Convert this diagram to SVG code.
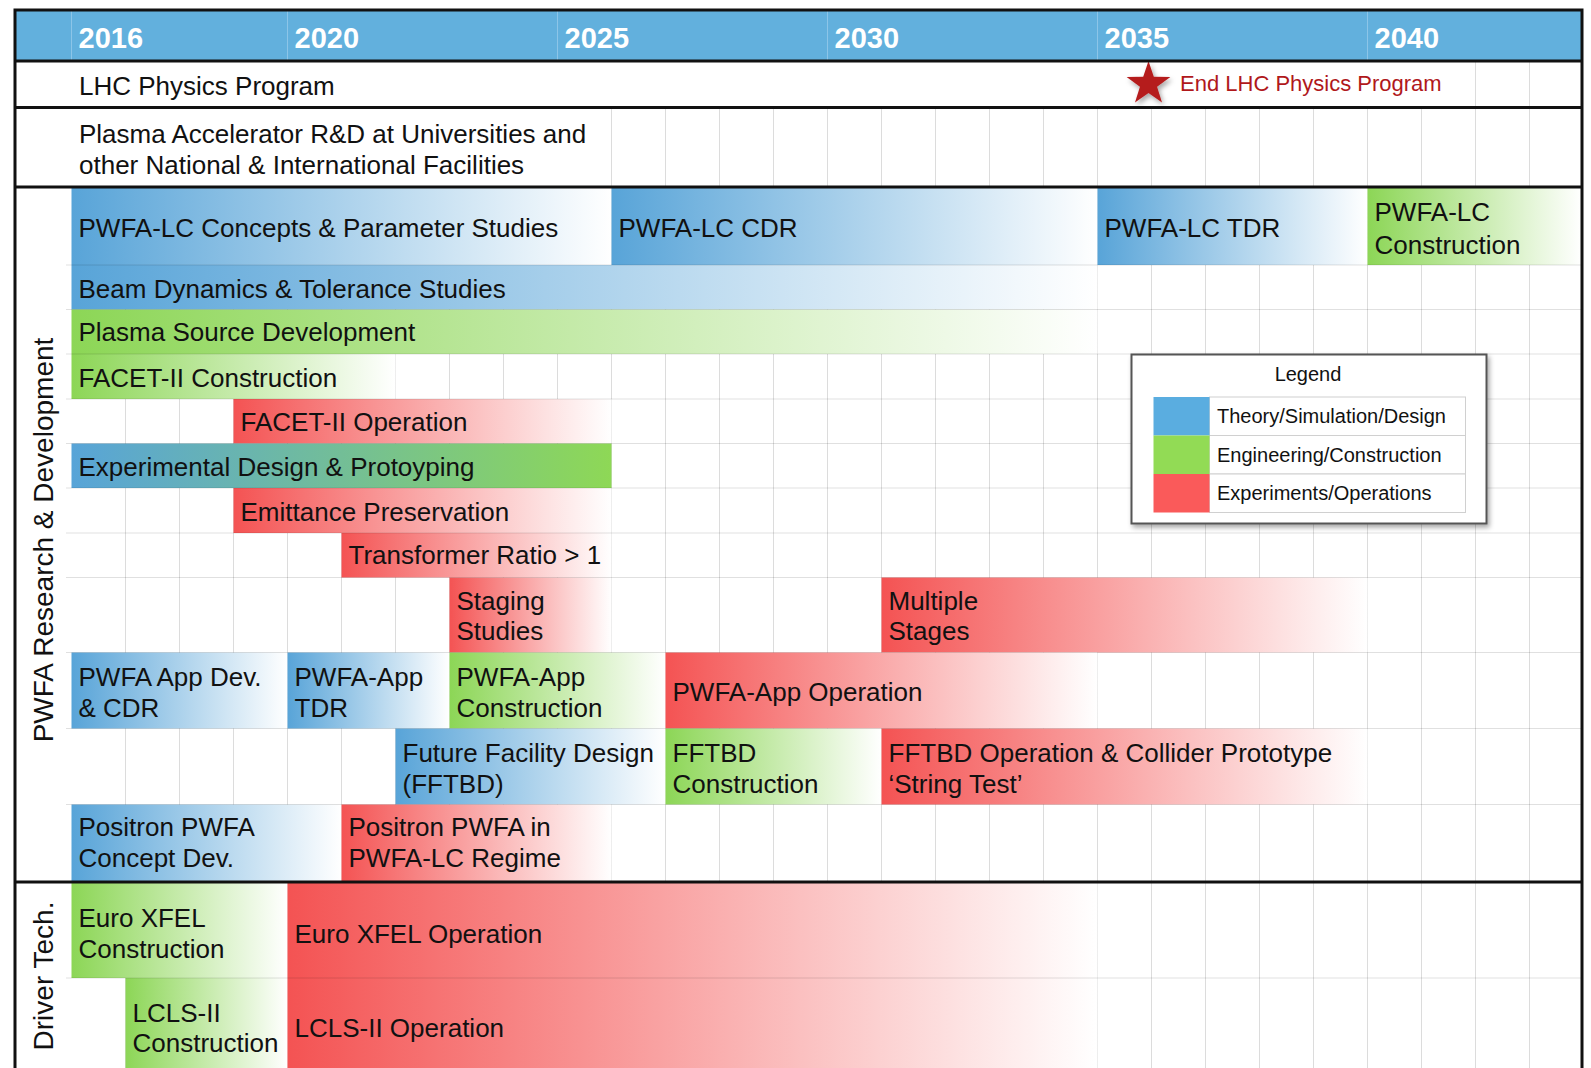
<svg xmlns="http://www.w3.org/2000/svg" width="1591" height="1068" viewBox="0 0 1591 1068">
  <style>
    text { font-family: "Liberation Sans", Arial, Helvetica, sans-serif; fill: #111; }
    .t { font-size: 26px; }
    .yr { font-size: 29px; font-weight: bold; fill: #fff; }
    .side { font-size: 28px; }
    .lg { font-size: 20px; }
    .end { font-size: 22px; fill: #b0181b; }
    .grid { stroke: #dcdcdc; stroke-width: 1; fill: none; }
    .sep { stroke: #000; stroke-opacity: 0.12; stroke-width: 1; fill: none; }
    .thick { stroke: #111; stroke-width: 3; fill: none; }
    .hdrline { stroke: #8cc5e8; stroke-width: 1; }
    .blue { fill: url(#gBlue); }
    .green { fill: url(#gGreen); }
    .red { fill: url(#gRed); }
    .bg { fill: url(#gBlueGreen); }
    .cell { fill: #fff; stroke: #d0d0d0; stroke-width: 1; }
  </style>
  <defs>
    <linearGradient id="gBlue" x1="0" y1="0" x2="1" y2="0">
      <stop offset="0" stop-color="#58a4d8"/>
      <stop offset="1" stop-color="#ffffff"/>
    </linearGradient>
    <linearGradient id="gGreen" x1="0" y1="0" x2="1" y2="0">
      <stop offset="0" stop-color="#8cd656"/>
      <stop offset="1" stop-color="#ffffff"/>
    </linearGradient>
    <linearGradient id="gRed" x1="0" y1="0" x2="1" y2="0">
      <stop offset="0" stop-color="#f45353"/>
      <stop offset="1" stop-color="#ffffff"/>
    </linearGradient>
    <linearGradient id="gBlueGreen" x1="0" y1="0" x2="1" y2="0">
      <stop offset="0" stop-color="#58a4d8"/>
      <stop offset="1" stop-color="#8ed856"/>
    </linearGradient>
    <filter id="shadow" x="-20%" y="-20%" width="140%" height="140%">
      <feDropShadow dx="2" dy="3" stdDeviation="2.5" flood-color="#000" flood-opacity="0.35"/>
    </filter>
  </defs>

  <rect x="0" y="0" width="1591" height="1068" fill="#fff"/>

  <!-- header band -->
  <rect x="15" y="10" width="1567" height="51" fill="#62b0dd"/>

  <!-- year grid: one column per year, 54px wide, starting at 2016 -->
  <g id="grid-vertical" class="grid">
    <path d="M125.5 187V1068 M179.5 187V1068 M233.5 187V1068 M287.5 187V1068 M341.5 187V1068 M395.5 187V1068 M449.5 187V1068 M503.5 187V1068 M557.5 187V1068 M611.5 107.5V1068 M665.5 107.5V1068 M719.5 107.5V1068 M773.5 107.5V1068 M827.5 107.5V1068 M881.5 107.5V1068 M935.5 107.5V1068 M989.5 107.5V1068 M1043.5 107.5V1068 M1097.5 107.5V1068 M1151.5 107.5V1068 M1205.5 107.5V1068 M1259.5 107.5V1068 M1313.5 107.5V1068 M1367.5 107.5V1068 M1421.5 107.5V1068 M1475.5 61V1068 M1529.5 61V1068"/>
  </g>

  <!-- task bars -->
  <g id="lc-concepts">
    <rect class="blue" x="71.5" y="187" width="540" height="78"/>
    <text class="t" x="78.5" y="237">PWFA-LC Concepts &amp; Parameter Studies</text>
  </g>
  <g id="lc-cdr">
    <rect class="blue" x="611.5" y="187" width="486" height="78"/>
    <text class="t" x="618.5" y="237">PWFA-LC CDR</text>
  </g>
  <g id="lc-tdr">
    <rect class="blue" x="1097.5" y="187" width="270" height="78"/>
    <text class="t" x="1104.5" y="237">PWFA-LC TDR</text>
  </g>
  <g id="lc-construction">
    <rect class="green" x="1367.5" y="187" width="214" height="78"/>
    <text class="t" x="1374.5" y="221">PWFA-LC</text>
    <text class="t" x="1374.5" y="253.5">Construction</text>
  </g>
  <g id="beam-dynamics">
    <rect class="blue" x="71.5" y="265" width="1026" height="44.5"/>
    <text class="t" x="78.5" y="298">Beam Dynamics &amp; Tolerance Studies</text>
  </g>
  <g id="plasma-source">
    <rect class="green" x="71.5" y="309.5" width="1026" height="44.5"/>
    <text class="t" x="78.5" y="341">Plasma Source Development</text>
  </g>
  <g id="facet2-construction">
    <rect class="green" x="71.5" y="354" width="324" height="45"/>
    <text class="t" x="78.5" y="386.5">FACET-II Construction</text>
  </g>
  <g id="facet2-operation">
    <rect class="red" x="233.5" y="399" width="378" height="44.5"/>
    <text class="t" x="240.5" y="431">FACET-II Operation</text>
  </g>
  <g id="experimental-design">
    <rect class="bg" x="71.5" y="443.5" width="540" height="44.5"/>
    <text class="t" x="78.5" y="475.5">Experimental Design &amp; Protoyping</text>
  </g>
  <g id="emittance">
    <rect class="red" x="233.5" y="488" width="378" height="45"/>
    <text class="t" x="240.5" y="521">Emittance Preservation</text>
  </g>
  <g id="transformer-ratio">
    <rect class="red" x="341.5" y="533" width="270" height="44.5"/>
    <text class="t" x="348.5" y="564">Transformer Ratio &gt; 1</text>
  </g>
  <g id="staging-studies">
    <rect class="red" x="449.5" y="577.5" width="162" height="75"/>
    <text class="t" x="456.5" y="609.5">Staging</text>
    <text class="t" x="456.5" y="640">Studies</text>
  </g>
  <g id="multiple-stages">
    <rect class="red" x="881.5" y="577.5" width="486" height="75"/>
    <text class="t" x="888.5" y="609.5">Multiple</text>
    <text class="t" x="888.5" y="640">Stages</text>
  </g>
  <g id="app-dev-cdr">
    <rect class="blue" x="71.5" y="652.5" width="216" height="76"/>
    <text class="t" x="78.5" y="685.5">PWFA App Dev.</text>
    <text class="t" x="78.5" y="717">&amp; CDR</text>
  </g>
  <g id="app-tdr">
    <rect class="blue" x="287.5" y="652.5" width="162" height="76"/>
    <text class="t" x="294.5" y="685.5">PWFA-App</text>
    <text class="t" x="294.5" y="717">TDR</text>
  </g>
  <g id="app-construction">
    <rect class="green" x="449.5" y="652.5" width="216" height="76"/>
    <text class="t" x="456.5" y="685.5">PWFA-App</text>
    <text class="t" x="456.5" y="717">Construction</text>
  </g>
  <g id="app-operation">
    <rect class="red" x="665.5" y="652.5" width="432" height="76"/>
    <text class="t" x="672.5" y="701">PWFA-App Operation</text>
  </g>
  <g id="fftbd-design">
    <rect class="blue" x="395.5" y="728.5" width="270" height="76"/>
    <text class="t" x="402.5" y="762">Future Facility Design</text>
    <text class="t" x="402.5" y="793">(FFTBD)</text>
  </g>
  <g id="fftbd-construction">
    <rect class="green" x="665.5" y="728.5" width="216" height="76"/>
    <text class="t" x="672.5" y="762">FFTBD</text>
    <text class="t" x="672.5" y="793">Construction</text>
  </g>
  <g id="fftbd-operation">
    <rect class="red" x="881.5" y="728.5" width="486" height="76"/>
    <text class="t" x="888.5" y="762">FFTBD Operation &amp; Collider Prototype</text>
    <text class="t" x="888.5" y="793">‘String Test’</text>
  </g>
  <g id="positron-concept">
    <rect class="blue" x="71.5" y="804.5" width="270" height="77.5"/>
    <text class="t" x="78.5" y="836">Positron PWFA</text>
    <text class="t" x="78.5" y="867">Concept Dev.</text>
  </g>
  <g id="positron-lc">
    <rect class="red" x="341.5" y="804.5" width="270" height="77.5"/>
    <text class="t" x="348.5" y="836">Positron PWFA in</text>
    <text class="t" x="348.5" y="867">PWFA-LC Regime</text>
  </g>
  <g id="xfel-construction">
    <rect class="green" x="71.5" y="882" width="216" height="96"/>
    <text class="t" x="78.5" y="927">Euro XFEL</text>
    <text class="t" x="78.5" y="957.5">Construction</text>
  </g>
  <g id="xfel-operation">
    <rect class="red" x="287.5" y="882" width="810" height="96"/>
    <text class="t" x="294.5" y="942.5">Euro XFEL Operation</text>
  </g>
  <g id="lcls2-construction">
    <rect class="green" x="125.5" y="978" width="162" height="90"/>
    <text class="t" x="132.5" y="1021.5">LCLS-II</text>
    <text class="t" x="132.5" y="1052">Construction</text>
  </g>
  <g id="lcls2-operation">
    <rect class="red" x="287.5" y="978" width="810" height="90"/>
    <text class="t" x="294.5" y="1037">LCLS-II Operation</text>
  </g>

  <!-- row separators -->
  <g id="grid-rows" class="sep">
    <path d="M66 265H1582 M66 309.5H1582 M66 354H1582 M66 399H1582 M66 443.5H1582 M66 488H1582 M66 533H1582 M66 577.5H1582 M66 652.5H1582 M66 728.5H1582 M66 804.5H1582 M66 978H1582"/>
  </g>

  <!-- header year markers -->
  <g id="header">
    <path class="hdrline" d="M71.5 11V60 M287.5 11V60 M557.5 11V60 M827.5 11V60 M1097.5 11V60 M1367.5 11V60"/>
    <text class="yr" x="78.5" y="48">2016</text>
    <text class="yr" x="294.5" y="48">2020</text>
    <text class="yr" x="564.5" y="48">2025</text>
    <text class="yr" x="834.5" y="48">2030</text>
    <text class="yr" x="1104.5" y="48">2035</text>
    <text class="yr" x="1374.5" y="48">2040</text>
  </g>

  <g id="lhc-program">
    <text class="t" x="79" y="95">LHC Physics Program</text>
  </g>
  <g id="lhc-end">
    <polygon filter="url(#shadow)" fill="#b51c1e" transform="translate(1148.5 84)" points="0,-23 5.29,-7.28 21.87,-7.11 8.56,2.78 13.52,18.61 0,9 -13.52,18.61 -8.56,2.78 -21.87,-7.11 -5.29,-7.28"/>
    <text class="end" x="1180" y="91">End LHC Physics Program</text>
  </g>
  <g id="plasma-rd">
    <text class="t" x="79" y="143">Plasma Accelerator R&amp;D at Universities and</text>
    <text class="t" x="79" y="173.5">other National &amp; International Facilities</text>
  </g>

  <!-- section labels -->
  <g id="section-rd">
    <text class="side" transform="translate(53 540) rotate(-90)" text-anchor="middle">PWFA Research &amp; Development</text>
  </g>
  <g id="section-driver">
    <text class="side" transform="translate(53 976) rotate(-90)" text-anchor="middle">Driver Tech.</text>
  </g>

  <!-- frame and section dividers -->
  <g id="frame" class="thick">
    <path d="M15 1068V10H1582V1068"/>
    <path d="M15 61H1582 M15 107.5H1582 M15 187H1582 M15 882H1582"/>
  </g>

  <!-- legend -->
  <g id="legend">
    <rect x="1131.5" y="354.5" width="355" height="169" fill="#fff" stroke="#555" stroke-width="2" filter="url(#shadow)"/>
    <text class="lg" x="1308" y="381" text-anchor="middle">Legend</text>
    <rect class="cell" x="1209.5" y="397" width="256" height="38.5"/>
    <rect class="cell" x="1209.5" y="435.5" width="256" height="38.5"/>
    <rect class="cell" x="1209.5" y="474" width="256" height="38.5"/>
    <rect x="1153.5" y="397" width="56" height="38.5" fill="#5aade0"/>
    <rect x="1153.5" y="435.5" width="56" height="38.5" fill="#92db55"/>
    <rect x="1153.5" y="474" width="56" height="38.5" fill="#fa5a5a"/>
    <text class="lg" x="1217" y="423">Theory/Simulation/Design</text>
    <text class="lg" x="1217" y="461.5">Engineering/Construction</text>
    <text class="lg" x="1217" y="500">Experiments/Operations</text>
  </g>
</svg>
